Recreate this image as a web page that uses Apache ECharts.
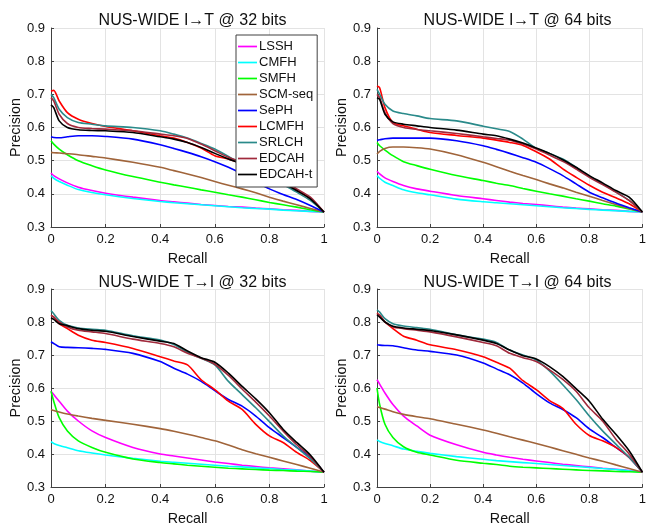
<!DOCTYPE html>
<html><head><meta charset="utf-8">
<script src="https://cdn.jsdelivr.net/npm/echarts@6/dist/echarts.min.js"></script>
<style>html,body{margin:0;padding:0;background:#fff}#c{width:649px;height:527px}</style>
</head><body><div id="c"></div><script>
// ---- data ----
const recall = [0, .01, .03, .06, .1, .15, .2, .3, .4, .45, .5, .55, .6, .65, .7, .75, .8, .85, .9, .95, 1];
const methods = ['LSSH', 'CMFH', 'SMFH', 'SCM-seq', 'SePH', 'LCMFH', 'SRLCH', 'EDCAH', 'EDCAH-t'];
const panelTitles = ['NUS-WIDE I\u2192T @ 32 bits', 'NUS-WIDE I\u2192T @ 64 bits', 'NUS-WIDE T\u2192I @ 32 bits', 'NUS-WIDE T\u2192I @ 64 bits'];
const xTickLabels = ['0', '0.2', '0.4', '0.6', '0.8', '1'];
const yTickLabels = ['0.3', '0.4', '0.5', '0.6', '0.7', '0.8', '0.9'];

// I->T 32 bits
const it32_LSSH   = [.463,.455,.445,.433,.42,.41,.402,.39,.38,.376,.372,.368,.365,.362,.36,.357,.355,.352,.35,.347,.345];
const it32_CMFH   = [.455,.447,.437,.426,.413,.404,.397,.386,.377,.373,.37,.367,.364,.361,.358,.356,.354,.351,.349,.347,.345];
const it32_SMFH   = [.56,.55,.535,.518,.50,.485,.472,.452,.435,.427,.42,.412,.405,.397,.39,.382,.374,.367,.36,.352,.345];
const it32_SCMseq = [.525,.524,.523,.521,.518,.513,.508,.495,.48,.47,.46,.449,.437,.426,.415,.403,.39,.378,.367,.356,.345];
const it32_SePH   = [.572,.57,.569,.572,.575,.575,.573,.565,.548,.537,.525,.512,.497,.48,.46,.437,.415,.398,.383,.365,.345];
const it32_LCMFH  = [.71,.712,.68,.645,.625,.612,.603,.59,.575,.568,.555,.538,.515,.505,.49,.472,.455,.435,.41,.385,.345];
const it32_SRLCH  = [.70,.69,.655,.63,.615,.61,.605,.6,.59,.58,.568,.552,.535,.513,.49,.47,.45,.428,.405,.38,.345];
const it32_EDCAH  = [.69,.68,.64,.612,.60,.597,.595,.59,.58,.575,.567,.55,.53,.51,.495,.478,.46,.44,.415,.39,.345];
const it32_EDCAHt = [.668,.66,.62,.60,.593,.591,.59,.585,.572,.565,.555,.54,.522,.505,.49,.472,.452,.432,.41,.385,.345];

// I->T 64 bits
const it64_LSSH   = [.468,.46,.448,.437,.425,.415,.408,.395,.385,.38,.375,.371,.368,.364,.36,.357,.355,.352,.35,.347,.345];
const it64_CMFH   = [.455,.447,.435,.425,.412,.403,.397,.384,.376,.373,.37,.367,.364,.361,.358,.356,.353,.351,.349,.347,.345];
const it64_SMFH   = [.555,.545,.532,.515,.497,.485,.474,.455,.44,.432,.425,.416,.408,.4,.393,.385,.378,.37,.363,.354,.345];
const it64_SCMseq = [.52,.528,.537,.541,.541,.539,.535,.518,.495,.482,.468,.455,.443,.43,.418,.405,.393,.38,.368,.356,.345];
const it64_SePH   = [.562,.563,.566,.568,.568,.568,.568,.56,.545,.534,.522,.509,.495,.476,.455,.43,.405,.388,.372,.358,.345];
const it64_LCMFH  = [.725,.72,.66,.615,.605,.595,.585,.576,.568,.562,.555,.546,.527,.505,.475,.45,.426,.405,.388,.37,.345];
const it64_SRLCH  = [.715,.70,.67,.65,.642,.635,.627,.62,.604,.596,.588,.565,.537,.522,.505,.48,.453,.43,.406,.38,.345];
const it64_EDCAH  = [.70,.69,.645,.612,.60,.594,.59,.582,.572,.567,.562,.55,.535,.517,.498,.475,.45,.428,.405,.38,.345];
const it64_EDCAHt = [.69,.685,.64,.617,.61,.605,.60,.592,.58,.575,.565,.553,.538,.522,.503,.48,.455,.433,.41,.39,.345];

// T->I 32 bits
const ti32_LSSH   = [.59,.58,.56,.53,.50,.47,.45,.42,.40,.394,.388,.382,.376,.371,.366,.362,.358,.355,.352,.348,.345];
const ti32_CMFH   = [.437,.432,.426,.419,.41,.403,.397,.387,.378,.375,.372,.369,.366,.363,.361,.358,.356,.353,.351,.348,.345];
const ti32_SMFH   = [.59,.56,.51,.47,.44,.42,.405,.385,.374,.37,.366,.363,.36,.357,.355,.353,.351,.35,.348,.347,.345];
const ti32_SCMseq = [.535,.532,.527,.521,.515,.508,.502,.49,.477,.469,.46,.45,.44,.427,.413,.401,.39,.379,.368,.357,.345];
const ti32_SePH   = [.74,.735,.725,.723,.722,.72,.717,.705,.68,.66,.642,.62,.592,.565,.545,.515,.48,.45,.42,.39,.345];
const ti32_LCMFH  = [.82,.815,.795,.78,.76,.745,.738,.72,.695,.682,.67,.625,.595,.56,.535,.49,.455,.435,.405,.38,.345];
const ti32_SRLCH  = [.835,.825,.805,.79,.782,.778,.775,.758,.745,.732,.708,.69,.67,.62,.58,.54,.498,.455,.42,.385,.345];
const ti32_EDCAH  = [.82,.815,.80,.785,.775,.77,.765,.748,.735,.725,.705,.69,.672,.638,.597,.557,.515,.47,.428,.392,.345];
const ti32_EDCAHt = [.812,.808,.795,.789,.78,.775,.772,.756,.742,.735,.712,.692,.678,.645,.605,.567,.525,.475,.435,.397,.345];

// T->I 64 bits
const ti64_LSSH   = [.625,.612,.585,.55,.515,.485,.457,.428,.405,.397,.39,.384,.379,.374,.369,.365,.361,.357,.354,.35,.345];
const ti64_CMFH   = [.443,.438,.432,.425,.415,.408,.402,.392,.384,.38,.377,.374,.371,.368,.365,.362,.359,.356,.353,.349,.345];
const ti64_SMFH   = [.60,.55,.49,.45,.422,.405,.397,.381,.372,.368,.363,.36,.358,.356,.354,.352,.35,.349,.347,.346,.345];
const ti64_SCMseq = [.543,.541,.536,.528,.52,.513,.507,.49,.473,.463,.452,.442,.432,.421,.41,.399,.388,.378,.367,.356,.345];
const ti64_SePH   = [.731,.73,.729,.728,.722,.715,.711,.70,.676,.658,.64,.615,.583,.555,.535,.51,.476,.45,.42,.39,.345];
const ti64_LCMFH  = [.827,.82,.80,.78,.757,.745,.731,.716,.695,.678,.66,.622,.595,.562,.538,.49,.456,.44,.42,.39,.345];
const ti64_SRLCH  = [.837,.83,.81,.795,.788,.783,.778,.761,.748,.738,.715,.70,.685,.652,.61,.565,.515,.47,.43,.39,.345];
const ti64_EDCAH  = [.825,.82,.80,.785,.78,.775,.77,.755,.738,.728,.705,.692,.68,.655,.626,.59,.54,.50,.445,.40,.345];
const ti64_EDCAHt = [.822,.815,.80,.787,.782,.778,.774,.761,.745,.735,.715,.698,.688,.665,.635,.598,.56,.506,.46,.41,.345];

const panels = [
  [it32_LSSH, it32_CMFH, it32_SMFH, it32_SCMseq, it32_SePH, it32_LCMFH, it32_SRLCH, it32_EDCAH, it32_EDCAHt],
  [it64_LSSH, it64_CMFH, it64_SMFH, it64_SCMseq, it64_SePH, it64_LCMFH, it64_SRLCH, it64_EDCAH, it64_EDCAHt],
  [ti32_LSSH, ti32_CMFH, ti32_SMFH, ti32_SCMseq, ti32_SePH, ti32_LCMFH, ti32_SRLCH, ti32_EDCAH, ti32_EDCAHt],
  [ti64_LSSH, ti64_CMFH, ti64_SMFH, ti64_SCMseq, ti64_SePH, ti64_LCMFH, ti64_SRLCH, ti64_EDCAH, ti64_EDCAHt]
];

// ---- style ----
const colors = ['#ff00ff', '#00ffff', '#00ff00', '#a0643a', '#0000ff', '#ff0000', '#2a8a8a', '#a02a3c', '#000000'];
const FONT = 'Liberation Sans, Arial, Helvetica, sans-serif';
const grids = [
  {left: 51, top: 28, width: 273, height: 199},
  {left: 377, top: 28, width: 271, height: 199},
  {left: 51, top: 289, width: 273, height: 199},
  {left: 377, top: 289, width: 271, height: 199}
];

const chart = echarts.init(document.getElementById('c'), null, {renderer: 'canvas'});
const xAxes = [], yAxes = [], series = [], titles = [];
grids.forEach((g, p) => {
  titles.push({
    text: panelTitles[p], left: g.left + g.width / 2, top: p < 2 ? 7.5 : 269.5, textAlign: 'center',
    textStyle: {fontFamily: FONT, fontSize: 16, fontWeight: 'normal', color: '#111'}
  });
  xAxes.push({
    type: 'value', gridIndex: p, min: 0, max: 1, interval: 0.2,
    name: 'Recall', nameLocation: 'middle', nameGap: 25,
    nameTextStyle: {fontFamily: FONT, fontSize: 14.3, color: '#111'},
    axisLine: {show: true, onZero: false, lineStyle: {color: '#404040', width: 1}},
    axisTick: {show: true, inside: true, length: 3, lineStyle: {color: '#404040'}},
    axisLabel: {fontFamily: FONT, fontSize: 13, color: '#111', margin: 6,
      formatter: v => xTickLabels[Math.round(v * 5)]},
    splitLine: {show: true, lineStyle: {color: '#e3e3e3', width: 1}}
  });
  yAxes.push({
    type: 'value', gridIndex: p, min: 0.3, max: 0.9, interval: 0.1,
    name: 'Precision', nameLocation: 'middle', nameGap: 23, nameRotate: 90,
    nameTextStyle: {fontFamily: FONT, fontSize: 14.3, color: '#111'},
    axisLine: {show: true, onZero: false, lineStyle: {color: '#404040', width: 1}},
    axisTick: {show: true, inside: true, length: 3, lineStyle: {color: '#404040'}},
    axisLabel: {fontFamily: FONT, fontSize: 13, color: '#111', margin: 6,
      formatter: v => yTickLabels[Math.round(v * 10) - 3]},
    splitLine: {show: true, lineStyle: {color: '#e3e3e3', width: 1}}
  });
  methods.forEach((m, k) => {
    series.push({
      type: 'line', name: m, xAxisIndex: p, yAxisIndex: p,
      data: recall.map((r, i) => [r, panels[p][k][i]]),
      symbol: 'none', smooth: 0.25, clip: true,
      lineStyle: {color: colors[k], width: 1.6},
      itemStyle: {color: colors[k]},
      z: 2 + k * 0.01
    });
  });
});

chart.setOption({
  animation: false,
  backgroundColor: '#fff',
  title: titles,
  grid: grids,
  xAxis: xAxes,
  yAxis: yAxes,
  legend: {
    data: methods, orient: 'vertical', left: 236, top: 35,
    icon: 'path://M0,0L19,0L19,1.7L0,1.7Z',
    backgroundColor: '#fff', borderColor: '#404040', borderWidth: 1, borderRadius: 0,
    padding: [5, 4, 6, 2], itemWidth: 19, itemHeight: 14, itemGap: 3,
    textStyle: {fontFamily: FONT, fontSize: 13, color: '#111', padding: [0, 0, 0, -3]},
    selectedMode: false
  },
  series: series
});
</script></body></html>
